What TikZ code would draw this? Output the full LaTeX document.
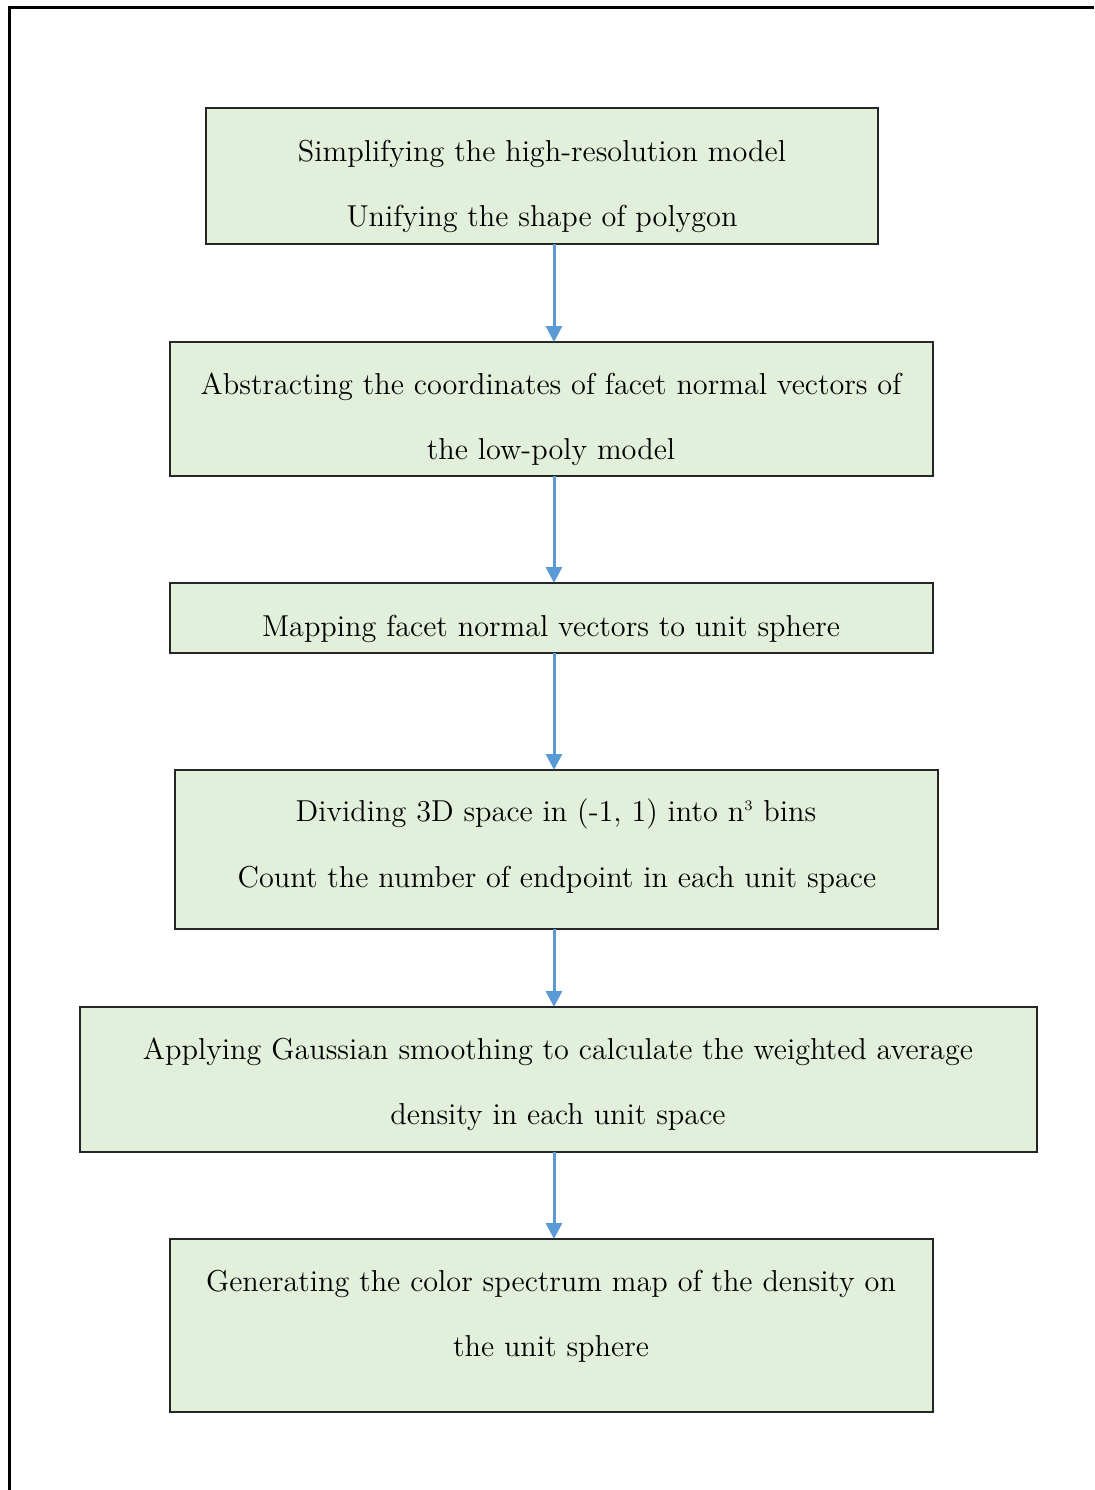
\documentclass[tikz,border=0pt]{standalone}
\usetikzlibrary{arrows.meta}
\definecolor{boxfill}{HTML}{E2EFDA}
\definecolor{arrowblue}{HTML}{5B9BD5}
\newcommand{\wtxt}[1]{\scalebox{1.043}{#1}}
\begin{document}
\begin{tikzpicture}[x=0.5pt,y=-0.5pt,
  box/.style={draw=black!85, line width=0.75pt, fill=boxfill},
  txt/.style={anchor=base, inner sep=0pt, font=\fontsize{14.5}{17}\selectfont},
  flow/.style={draw=arrowblue, line width=1.5pt, -{Triangle[width=8pt,length=8pt]}}]
\useasboundingbox (0,0) rectangle (1094,1490);
\draw[line width=1.5pt] (9,1490) -- (9,7) -- (1094,7);
% boxes
\path[box] (206,108) rectangle (878,244);
\coordinate (b1t) at (554,108); \coordinate (b1b) at (554,244);
\path[box] (170,342) rectangle (933,476);
\coordinate (b2t) at (554,342); \coordinate (b2b) at (554,476);
\path[box] (170,583) rectangle (933,653);
\coordinate (b3t) at (554,583); \coordinate (b3b) at (554,653);
\path[box] (175,770) rectangle (938,929);
\coordinate (b4t) at (554,770); \coordinate (b4b) at (554,929);
\path[box] (80,1007) rectangle (1037,1152);
\coordinate (b5t) at (554,1007); \coordinate (b5b) at (554,1152);
\path[box] (170,1239) rectangle (933,1412);
\coordinate (b6t) at (554,1239);
% texts
\node[txt] (t1a) at (542,161) {\wtxt{Simplifying the high-resolution model}};
\node[txt] (t1b) at (542,226) {\wtxt{Unifying the shape of polygon}};
\node[txt] (t2a) at (551,394) {\wtxt{Abstracting the coordinates of facet normal vectors of}};
\node[txt] (t2b) at (551,459) {\wtxt{the low-poly model}};
\node[txt] (t3a) at (551,636) {\wtxt{Mapping facet normal vectors to unit sphere}};
\node[txt] (t4a) at (556,821) {\wtxt{Dividing 3D space in (-1, 1) into n\textsuperscript{\scriptsize 3} bins}};
\node[txt] (t4b) at (557,887) {\wtxt{Count the number of endpoint in each unit space}};
\node[txt] (t5a) at (558,1059) {\wtxt{Applying Gaussian smoothing to calculate the weighted average}};
\node[txt] (t5b) at (558,1124) {\wtxt{density in each unit space}};
\node[txt] (t6a) at (551,1291) {\wtxt{Generating the color spectrum map of the density on}};
\node[txt] (t6b) at (551,1356) {\wtxt{the unit sphere}};
% arrows
\draw[flow] (b1b) -- (b2t);
\draw[flow] (b2b) -- (b3t);
\draw[flow] (b3b) -- (b4t);
\draw[flow] (b4b) -- (b5t);
\draw[flow] (b5b) -- (b6t);
\end{tikzpicture}
\end{document}
